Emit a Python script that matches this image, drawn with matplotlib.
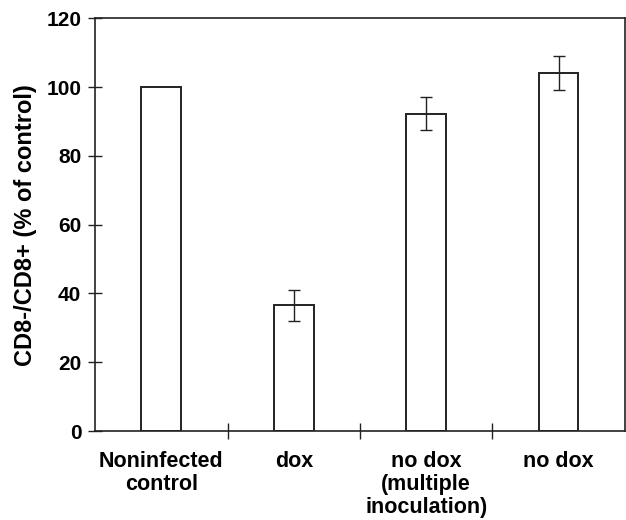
import matplotlib.pyplot as plt

plt.rcParams['font.family'] = ['Liberation Sans', 'DejaVu Sans']
plt.rcParams['font.weight'] = 'bold'

groups = ["Noninfected\ncontrol", "dox", "no dox\n(multiple\ninoculation)", "no dox"]
values = [100, 36.5, 92.2, 104]
errors = [0, 4.6, 4.8, 4.9]

fig = plt.figure(figsize=(6.26, 5.2), dpi=100)
ax = fig.add_axes([0.152, 0.171, 0.846, 0.794])

x = range(len(groups))
ax.bar(x, values, width=0.3, color='white', edgecolor='#222222', linewidth=1.4)
for xi, v, e in zip(x, values, errors):
    if e > 0:
        ax.errorbar(xi, v, yerr=e, fmt='none', ecolor='#222222', elinewidth=1.0,
                    capsize=4.5, capthick=1.0)

ax.set_xlim(-0.5, 3.5)
ax.set_ylim(0, 120)
ax.set_yticks(range(0, 121, 20))
ax.set_xticks([0.5, 1.5, 2.5])
ax.set_xticklabels([])
ax.set_xticks(list(x), minor=True)
ax.set_xticklabels(groups, minor=True, fontsize=15.5, fontweight='bold', va='top',
                   linespacing=1.15)
ax.tick_params(axis='x', which='minor', length=0, pad=14)
ax.tick_params(axis='x', which='major', direction='inout', length=12, width=1, color='#222222')
ax.tick_params(axis='y', direction='inout', length=10, width=1, color='#222222',
               labelsize=15, pad=5)
for lab in ax.get_yticklabels():
    lab.set_fontweight('bold')
for s in ax.spines.values():
    s.set_linewidth(1.2)
    s.set_color('#222222')

ax.set_ylabel("CD8-/CD8+ (% of control)", fontsize=17, fontweight='bold', labelpad=7)

fig.savefig("out.png", dpi=100)
